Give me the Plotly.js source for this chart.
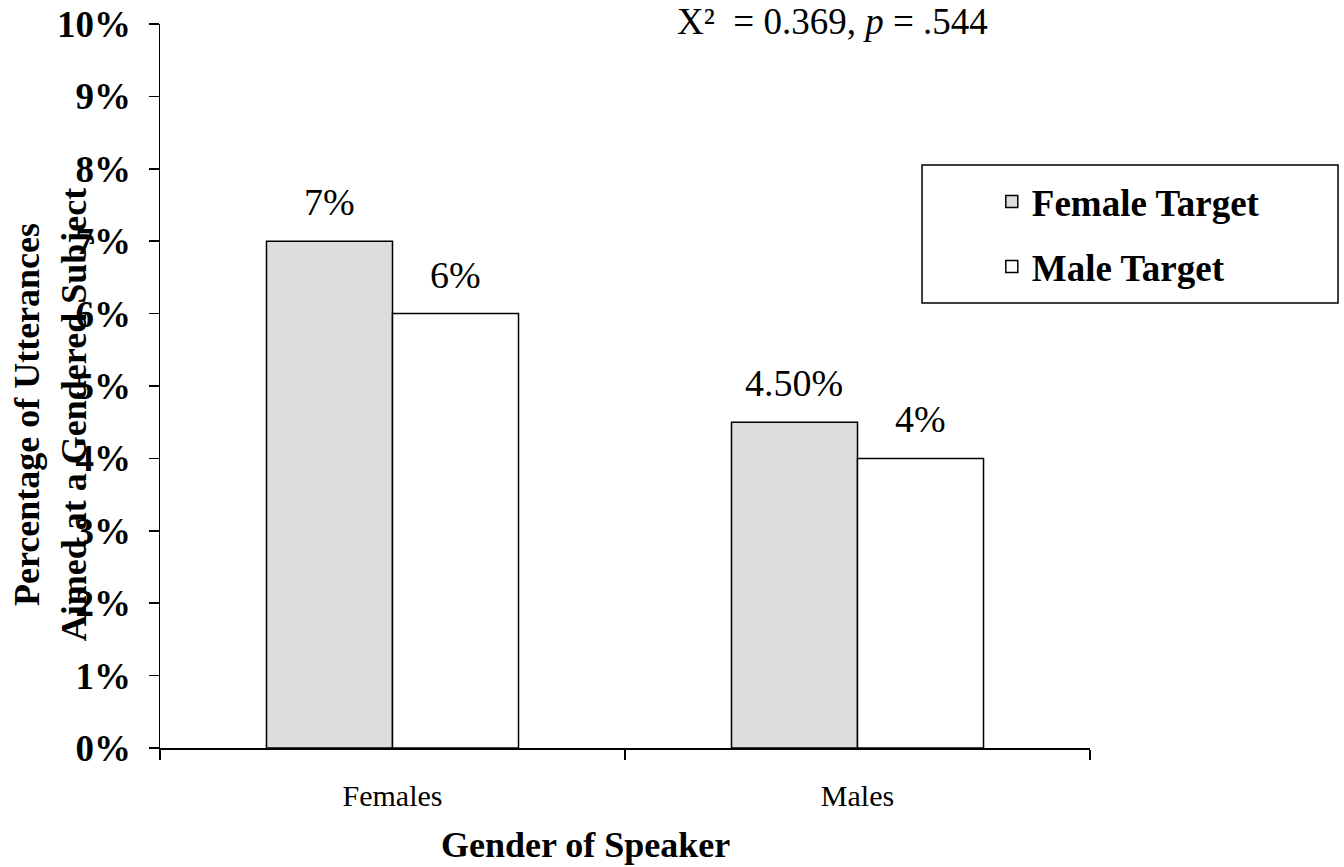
<!DOCTYPE html>
<html>
<head>
<meta charset="utf-8">
<script src="https://cdn.plot.ly/plotly-3.0.1.min.js"></script>
<style>html,body{margin:0;padding:0;background:#fff;}#chart{width:1344px;height:867px;}</style>
</head>
<body>
<div id="chart"></div>
<script>
const categories = ["Females", "Males"];
const seriesNames = ["Female Target", "Male Target"];
const femaleTarget = [0.07, 0.045];
const maleTarget = [0.06, 0.04];
const femaleLabels = ["7%", "4.50%"];
const maleLabels = ["6%", "4%"];
const yTickVals = [0, 0.01, 0.02, 0.03, 0.04, 0.05, 0.06, 0.07, 0.08, 0.09, 0.10];
const yTickText = ["0%", "1%", "2%", "3%", "4%", "5%", "6%", "7%", "8%", "9%", "10%"];
const statText = "X²  = 0.369, <i>p</i> = .544";
const xTitle = "Gender of Speaker";
const yTitle = "Percentage of Utterances<br>Aimed at a Gendered Subject";

const FONT = '"Liberation Serif", "Times New Roman", serif';
const bargap = 0.458;
const halfOffset = (1 - bargap) / 4;

const traces = [
  {
    type: 'bar', name: seriesNames[0], x: categories, y: femaleTarget,
    marker: {color: '#dddddd', line: {color: '#000', width: 1.5}},
    legendgroup: 'a', hoverinfo: 'skip'
  },
  {
    type: 'bar', name: seriesNames[1], x: categories, y: maleTarget,
    marker: {color: '#ffffff', line: {color: '#000', width: 1.5}},
    legendgroup: 'b', hoverinfo: 'skip'
  }
];

const annotations = [];
categories.forEach((c, i) => {
  annotations.push({x: i - halfOffset, y: femaleTarget[i], xref: 'x', yref: 'y', text: femaleLabels[i],
    showarrow: false, yanchor: 'bottom', yshift: 16, font: {family: FONT, size: 38, color: '#000'}});
  annotations.push({x: i + halfOffset, y: maleTarget[i], xref: 'x', yref: 'y', text: maleLabels[i],
    showarrow: false, yanchor: 'bottom', yshift: 16, font: {family: FONT, size: 38, color: '#000'}});
});
annotations.push({x: 0.7226, y: 1.0028, xref: 'paper', yref: 'paper', text: statText, showarrow: false,
  xanchor: 'center', yanchor: 'middle', font: {family: FONT, size: 37, color: '#000'}});
annotations.push({x: -0.117, y: 0.46, xref: 'paper', yref: 'paper', text: yTitle, showarrow: false,
  textangle: -90, xanchor: 'center', yanchor: 'middle', font: {family: FONT, size: 36, color: '#000', weight: 'bold'}});
annotations.push({x: 0.457, y: -0.134, xref: 'paper', yref: 'paper', text: xTitle, showarrow: false,
  xanchor: 'center', yanchor: 'middle', font: {family: FONT, size: 36, color: '#000', weight: 'bold'}});

const layout = {
  width: 1344, height: 867,
  margin: {l: 160, r: 254, t: 24, b: 119, pad: 0},
  paper_bgcolor: '#fff', plot_bgcolor: '#fff',
  barmode: 'group', bargap: bargap, bargroupgap: 0,
  font: {family: FONT, color: '#000'},
  showlegend: true,
  legend: {
    x: 0.8944, y: 0.797, xanchor: 'left', yanchor: 'top',
    bgcolor: 'rgba(0,0,0,0)', borderwidth: 0,
    font: {family: FONT, size: 37, color: '#000', weight: 'bold'},
    traceorder: 'grouped', tracegroupgap: 14
  },
  xaxis: {
    type: 'category', range: [-0.5, 1.5],
    showline: true, linecolor: '#000', linewidth: 1.5,
    ticks: 'outside', tickson: 'boundaries', ticklen: 10, tickcolor: '#000', tickwidth: 1.5,
    ticklabelstandoff: 20,
    tickfont: {family: FONT, size: 30, color: '#000'},
    showgrid: false, zeroline: false, fixedrange: true
  },
  yaxis: {
    range: [0, 0.10], tickvals: yTickVals, ticktext: yTickText,
    showline: true, linecolor: '#000', linewidth: 1.5,
    ticks: 'outside', ticklen: 10, tickcolor: '#000', tickwidth: 1.5,
    ticklabelstandoff: 10,
    tickfont: {family: FONT, size: 37, color: '#000', weight: 'bold'},
    showgrid: false, zeroline: false, fixedrange: true
  },
  shapes: [{
    type: 'rect', xref: 'paper', yref: 'paper',
    x0: 0.8194, x1: 1.2667, y0: 0.6146, y1: 0.8052,
    line: {color: '#000', width: 1.5}, fillcolor: 'rgba(0,0,0,0)', layer: 'above'
  }],
  annotations: annotations
};

Plotly.newPlot('chart', traces, layout, {staticPlot: true, displayModeBar: false});
</script>
</body>
</html>
